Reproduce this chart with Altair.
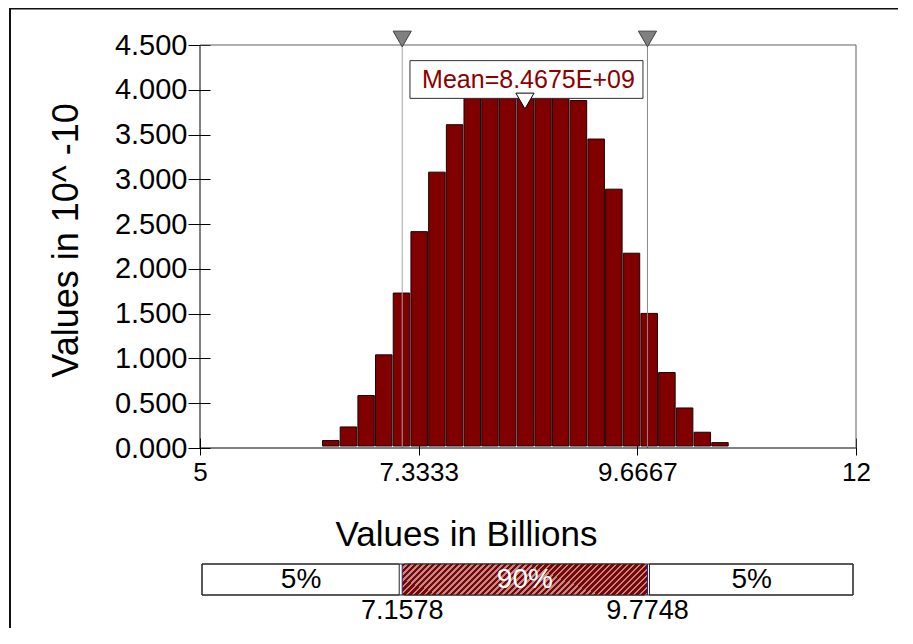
import altair as alt
import pandas as pd

FONT = "Liberation Sans"

# ---------------- data ----------------
bin_lo = [6.307, 6.496, 6.685, 6.873, 7.062, 7.251, 7.440, 7.629, 7.817, 8.006, 8.195, 8.384,
          8.573, 8.761, 8.950, 9.139, 9.328, 9.517, 9.705, 9.894, 10.083, 10.272, 10.461]
bin_hi = [6.496, 6.685, 6.873, 7.062, 7.251, 7.440, 7.629, 7.817, 8.006, 8.195, 8.384, 8.573,
          8.761, 8.950, 9.139, 9.328, 9.517, 9.705, 9.894, 10.083, 10.272, 10.461, 10.649]
density = [0.083, 0.235, 0.586, 1.040, 1.730, 2.416, 3.080, 3.610, 3.980, 4.120, 4.200, 4.180,
           4.100, 3.990, 3.880, 3.450, 2.890, 2.175, 1.503, 0.843, 0.447, 0.176, 0.060]

x_domain = [5, 12]
y_domain = [0, 4.5]
x_ticks = [5, 7.3333, 9.6667, 12]
y_ticks = [0, 0.5, 1.0, 1.5, 2.0, 2.5, 3.0, 3.5, 4.0, 4.5]

pct_values = [7.1578, 9.7748]
pct_value_labels = ["7.1578", "9.7748"]
seg_labels = ["5%", "90%", "5%"]

mean_value = 8.4675
mean_label = "Mean=8.4675E+09"

# ---------------- tables ----------------
hist = pd.DataFrame({"lo": bin_lo, "hi": bin_hi, "density": density, "base": 0.0})
frame = pd.DataFrame({"x0": [x_domain[0]], "x1": [x_domain[1]],
                      "y0": [y_domain[0]], "y1": [y_domain[1]]})
pct = pd.DataFrame({"x": pct_values, "label": pct_value_labels,
                    "y0": y_domain[0], "y1": y_domain[1],
                    "lc": ["#a8a8a8", "#888888"]})
mean_df = pd.DataFrame({"x": [mean_value], "y": [y_domain[1]], "label": [mean_label]})
seg_lo = [x_domain[0]] + pct_values
seg_hi = pct_values + [x_domain[1]]
seg = pd.DataFrame({"lo": seg_lo, "hi": seg_hi, "label": seg_labels,
                    "mid": [(a + b) / 2 for a, b in zip(seg_lo, seg_hi)],
                    "tc": ["black", "white", "black"], "b0": 0.0, "b1": 1.0, "half": 0.5})
mid_seg = seg.iloc[[1]]
whole = pd.DataFrame({"lo": [x_domain[0]], "hi": [x_domain[1]], "b0": [0.0], "b1": [1.0]})
pct_b = pd.DataFrame({"x": pct_values, "label": pct_value_labels, "b0": 0.0, "b1": 1.0})
edges = pd.DataFrame({"a": [0.0], "b": [1.0]})

# ---------------- layout (pixels) ----------------
W, H = 890, 620

x_scale = alt.Scale(domain=x_domain, range=[192, 848], nice=False, zero=False)
y_scale = alt.Scale(domain=y_domain, range=[440, 37], nice=False, zero=False)
yb_scale = alt.Scale(domain=[0, 1], range=[587, 556], nice=False, zero=False)
fx_scale = alt.Scale(domain=[0, 1], range=[2, W], nice=False, zero=False)
fy_scale = alt.Scale(domain=[0, 1], range=[0, H], nice=False, zero=False)

x_axis = alt.Axis(title="Values in Billions", values=x_ticks, format=".5~g",
                  labelFlush=False, labelOverlap=False, domain=False, grid=False,
                  ticks=True, tickSize=17, tickColor="black", tickWidth=1,
                  offset=-190, labelFontSize=26, labelPadding=4,
                  titleFontSize=35, titleX=458, titleY=107,
                  titleBaseline="alphabetic", titleAlign="center")
y_axis = alt.Axis(title="Values in 10^ -10", values=y_ticks, format=".3f",
                  domain=False, grid=False, ticks=True, tickSize=22,
                  tickColor="black", tickWidth=1, offset=-202,
                  labelFontSize=29, labelPadding=1, labelOverlap=False,
                  titleFontSize=36, titleX=-133, titleY=232, titleAngle=270,
                  titleBaseline="alphabetic", titleAlign="center")


def X(f):
    return alt.X(f"{f}:Q", scale=x_scale, axis=x_axis)


def Y(f):
    return alt.Y(f"{f}:Q", scale=y_scale, axis=y_axis)


def YB(f):
    return alt.Y(f"{f}:Q", scale=yb_scale, axis=None)


# ---------------- histogram panel ----------------
bars = alt.Chart(hist).mark_bar(fill="#800000", stroke="#1a0000", strokeWidth=1,
                                x2Offset=-1.2, y2Offset=-2).encode(
    x=X("lo"), x2=alt.X2("hi"), y=Y("density"), y2=alt.Y2("base"))

pct_rules = alt.Chart(pct).mark_rule(strokeWidth=1).encode(
    x=X("x"), y=Y("y0"), y2=alt.Y2("y1"), color=alt.Color("lc:N", scale=None))

left_line = alt.Chart(frame).mark_rule(color="black", strokeWidth=1).encode(
    x=X("x0"), y=Y("y0"), y2=alt.Y2("y1"))
bottom_line = alt.Chart(frame).mark_rule(color="black", strokeWidth=1).encode(
    x=X("x0"), x2=alt.X2("x1"), y=Y("y0"))
top_line = alt.Chart(frame).mark_rule(color="#606060", strokeWidth=1).encode(
    x=X("x0"), x2=alt.X2("x1"), y=Y("y1"))
right_line = alt.Chart(frame).mark_rule(color="#606060", strokeWidth=1).encode(
    x=X("x1"), y=Y("y0"), y2=alt.Y2("y1"))

top_tri = alt.Chart(pct).mark_point(shape="triangle-down", size=330, filled=True,
                                    fill="#808080", stroke="#404040", strokeWidth=1,
                                    opacity=1, yOffset=-6).encode(
    x=X("x"), y=Y("y1"))

box = alt.Chart(mean_df).mark_point(
    shape="M-1,-0.162L1,-0.162L1,0.162L-1,0.162Z", size=233 * 233, filled=True,
    fill="white", stroke="#303030", strokeWidth=1, opacity=1,
    yOffset=34.5, xOffset=1.5).encode(x=X("x"), y=Y("y"))

mean_text = alt.Chart(mean_df).mark_text(
    font=FONT, fontSize=25, color="#8B0000", baseline="middle", align="center",
    dy=35, dx=3.5).encode(x=X("x"), y=Y("y"), text="label:N")

mean_tri = alt.Chart(mean_df).mark_point(shape="triangle-down", size=330, filled=True,
                                         fill="white", stroke="black", strokeWidth=1,
                                         opacity=1, yOffset=56).encode(
    x=X("x"), y=Y("y"))

top = alt.layer(bars, pct_rules, left_line, bottom_line, top_line, right_line,
                top_tri, box, mean_text, mean_tri)

# ---------------- percentile bar ----------------
n = 47
stops = []
for i in range(n):
    a = i / n
    b = (i + 0.62) / n
    c = (i + 1) / n
    stops += [alt.GradientStop(color="#7a0606", offset=a),
              alt.GradientStop(color="#7a0606", offset=b),
              alt.GradientStop(color="#c08a8a", offset=b),
              alt.GradientStop(color="#c08a8a", offset=c)]
hatch_fill = alt.LinearGradient(gradient="linear", stops=stops,
                                x1=0, y1=0, x2=1.13, y2=0.142)

white_segs = alt.Chart(seg).mark_rect(fill="white", stroke="#222222", strokeWidth=1,
                                      xOffset=2, x2Offset=-3).encode(
    x=X("lo"), x2=alt.X2("hi"), y=YB("b0"), y2=alt.Y2("b1"))
hatch = alt.Chart(mid_seg).mark_rect(fill=hatch_fill, strokeWidth=0).encode(
    x=X("lo"), x2=alt.X2("hi"), y=YB("b0"), y2=alt.Y2("b1"))
outline = alt.Chart(whole).mark_rect(fill=None, stroke="#222222", strokeWidth=1,
                                     xOffset=2, x2Offset=-3).encode(
    x=X("lo"), x2=alt.X2("hi"), y=YB("b0"), y2=alt.Y2("b1"))
dividers = alt.Chart(pct_b).mark_rule(color="#20208a", strokeWidth=1).encode(
    x=X("x"), y=YB("b0"), y2=alt.Y2("b1"))
seg_text = alt.Chart(seg).mark_text(font=FONT, fontSize=28, baseline="middle",
                                    align="center").encode(
    x=X("mid"), y=YB("half"), text="label:N", color=alt.Color("tc:N", scale=None))
val_text = alt.Chart(pct_b).mark_text(font=FONT, fontSize=27, baseline="middle",
                                      align="center", dy=16, color="black").encode(
    x=X("x"), y=YB("b0"), text="label:N")

bottom = alt.layer(white_segs, hatch, outline, dividers, seg_text, val_text)

# ---------------- outer frame (top and left edges) ----------------
fx = alt.X("a:Q", scale=fx_scale, axis=None)
fy = alt.Y("a:Q", scale=fy_scale, axis=None)
frame_top = alt.Chart(edges).mark_rule(color="#111111", strokeWidth=3).encode(
    x=fx, x2=alt.X2("b"), y=fy)
frame_left = alt.Chart(edges).mark_rule(color="#111111", strokeWidth=2).encode(
    x=fx, y=fy, y2=alt.Y2("b"))
frame_layer = alt.layer(frame_top, frame_left)

inner = alt.layer(top, bottom).resolve_scale(y="independent")

chart = alt.layer(inner, frame_layer).resolve_scale(
    x="independent", y="independent"
).properties(
    width=W, height=H, autosize=alt.AutoSizeParams(type="none"), padding=0
).configure_view(
    stroke="transparent", strokeWidth=0, strokeOpacity=0
).configure_axis(
    labelFont=FONT, titleFont=FONT, labelColor="black", titleColor="black",
    titleFontWeight="normal"
)

chart.save("out.html", embed_options={"renderer": "svg", "actions": False})
